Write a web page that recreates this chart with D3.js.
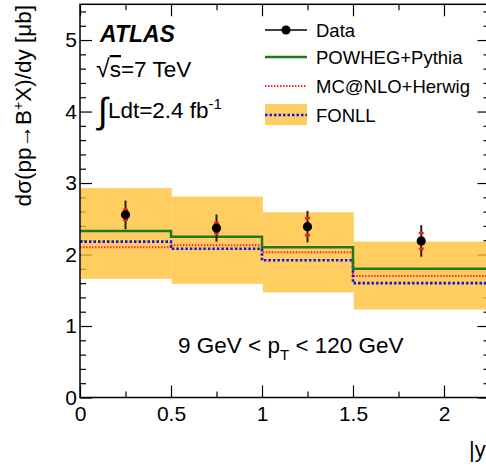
<!DOCTYPE html>
<html>
<head>
	<meta charset="utf-8">
	<title>B+ cross section vs |y|</title>
	<script src="https://d3js.org/d3.v7.min.js"></script>
	<style>
		body { margin: 0; background: #fff; }
		svg { font-family: "Liberation Sans", Arial, sans-serif; }
		.axis path { display: none; }
		.axis line { stroke: #000; stroke-width: 1.2px; }
		.axis text { font-size: 21px; fill: #000; }
	</style>
</head>
<body>
<svg id="chart"></svg>
<script>
// bin edges in |y| and bin centres for the data points
var binEdges = [0, 0.5, 1, 1.5, 2.25];
var dataX = [0.25, 0.75, 1.25, 1.875];
var dataY = [2.555, 2.37, 2.39, 2.19];
var dataErrTot = [0.20, 0.19, 0.22, 0.22];
var dataErrStat = [0.07, 0.07, 0.12, 0.11];
var powheg = [2.33, 2.25, 2.10, 1.80];
var mcnlo = [2.10, 2.13, 2.03, 1.70];
var fonll = [2.18, 2.08, 1.92, 1.60];
var fonllHi = [2.93, 2.81, 2.59, 2.18];
var fonllLo = [1.66, 1.59, 1.47, 1.23];
var xTicks = [0, 0.5, 1, 1.5, 2];
var yTicks = [0, 1, 2, 3, 4, 5];

(function () {
	var W = 486, H = 468,
		mLeft = 80, mRight = 489.5, mTop = 4.3, mBottom = 397.5;

	var x = d3.scaleLinear().domain([0, 2.25]).range([mLeft, mRight]),
		y = d3.scaleLinear().domain([0, 5.5]).range([mBottom, mTop]);

	var svg = d3.select('#chart').attr('width', W).attr('height', H);

	var minorX = d3.range(0, 2.26, 0.25).filter(function(v){ return Math.abs(v*2 - Math.round(v*2)) > 0.01; }),
		minorY = d3.range(0, 5.51, 0.2).filter(function(v){ return Math.abs(v - Math.round(v)) > 0.01; });

	// ticks, pointing inwards like ROOT
	svg.append('g').attr('class', 'axis').attr('transform', 'translate(0,' + mBottom + ')')
		.call(d3.axisBottom(x).tickValues(xTicks).tickSize(-12).tickFormat(d3.format('')))
		.selectAll('text').attr('dy', '0').attr('y', 23);
	svg.append('g').attr('class', 'axis').attr('transform', 'translate(0,' + mBottom + ')')
		.call(d3.axisBottom(x).tickValues(minorX).tickSize(-6).tickFormat(''));
	svg.append('g').attr('class', 'axis').attr('transform', 'translate(0,' + mTop + ')')
		.call(d3.axisTop(x).tickValues(xTicks).tickSize(-12).tickFormat(''));
	svg.append('g').attr('class', 'axis').attr('transform', 'translate(0,' + mTop + ')')
		.call(d3.axisTop(x).tickValues(minorX).tickSize(-6).tickFormat(''));
	svg.append('g').attr('class', 'axis').attr('transform', 'translate(' + mLeft + ',0)')
		.call(d3.axisLeft(y).tickValues(yTicks).tickSize(-12).tickFormat(d3.format('d')))
		.selectAll('text').attr('x', -3);
	svg.append('g').attr('class', 'axis').attr('transform', 'translate(' + mLeft + ',0)')
		.call(d3.axisLeft(y).tickValues(minorY).tickSize(-6).tickFormat(''));
	svg.append('g').attr('class', 'axis').attr('transform', 'translate(' + mRight + ',0)')
		.call(d3.axisRight(y).tickValues(yTicks).tickSize(-12).tickFormat(''));
	svg.append('g').attr('class', 'axis').attr('transform', 'translate(' + mRight + ',0)')
		.call(d3.axisRight(y).tickValues(minorY).tickSize(-6).tickFormat(''));

	// FONLL uncertainty band
	svg.append('g').selectAll('rect')
		.data(fonllHi)
		.enter().append('rect')
			.attr('x', function(d, i){ return x(binEdges[i]) + 0.8; })
			.attr('width', function(d, i){ return x(binEdges[i+1]) - x(binEdges[i]); })
			.attr('y', function(d){ return y(d); })
			.attr('height', function(d, i){ return y(fonllLo[i]) - y(d); })
			.attr('fill', '#ffbf33')
			.attr('fill-opacity', 0.78);

	// step histograms
	function steps(vals) {
		var p = vals.map(function(v, i){ return [binEdges[i], v]; });
		p.push([binEdges[binEdges.length-1], vals[vals.length-1]]);
		return d3.line().x(function(d){ return x(d[0]); }).y(function(d){ return y(d[1]); })
			.curve(d3.curveStepAfter)(p);
	}
	svg.append('path').attr('d', steps(mcnlo)).attr('fill', 'none')
		.attr('stroke', '#ff2a2a').attr('stroke-width', 2).attr('stroke-dasharray', '1.5,1.5');
	svg.append('path').attr('d', steps(fonll)).attr('fill', 'none')
		.attr('stroke', '#1414e6').attr('stroke-width', 2.6).attr('stroke-dasharray', '2.5,2');
	svg.append('path').attr('d', steps(powheg)).attr('fill', 'none')
		.attr('stroke', '#22771c').attr('stroke-width', 2.5);

	// data points
	var pts = svg.append('g').selectAll('g').data(dataY).enter().append('g');
	pts.append('line')
		.attr('x1', function(d, i){ return x(dataX[i]); })
		.attr('x2', function(d, i){ return x(dataX[i]); })
		.attr('y1', function(d, i){ return y(d + dataErrTot[i]); })
		.attr('y2', function(d, i){ return y(d - dataErrTot[i]); })
		.attr('stroke', '#222').attr('stroke-width', 2);
	[1, -1].forEach(function(s){
		pts.append('line')
			.attr('x1', function(d, i){ return x(dataX[i]) - 2.5; })
			.attr('x2', function(d, i){ return x(dataX[i]) + 2.5; })
			.attr('y1', function(d, i){ return y(d + s*dataErrStat[i]); })
			.attr('y2', function(d, i){ return y(d + s*dataErrStat[i]); })
			.attr('stroke', '#ff2020').attr('stroke-width', 2.5);
	});
	pts.append('circle')
		.attr('cx', function(d, i){ return x(dataX[i]); })
		.attr('cy', function(d){ return y(d); })
		.attr('r', 4.6).attr('fill', '#000');

	// frame
	svg.append('rect').attr('x', mLeft).attr('y', mTop).attr('width', mRight-mLeft).attr('height', mBottom-mTop)
		.attr('fill', 'none').attr('stroke', '#000').attr('stroke-width', 1.5);

	// axis titles
	svg.append('text')
		.attr('transform', 'translate(31,5) rotate(-90)')
		.attr('text-anchor', 'end')
		.style('font-size', '22.5px')
		.html('dσ(pp→B<tspan dy="-8" font-size="14">+</tspan><tspan dy="8">X)/dy [μb]</tspan>');
	svg.append('text')
		.attr('x', 469).attr('y', 457)
		.style('font-size', '22px')
		.text('|y|');

	// labels
	svg.append('text').attr('x', 100).attr('y', 42)
		.style('font-size', '23px').style('font-weight', 'bold').style('font-style', 'italic')
		.text('ATLAS');
	svg.append('text').attr('x', 96).attr('y', 77).style('font-size', '22.5px')
		.html('<tspan font-size="25">√</tspan><tspan text-decoration="overline">s</tspan>=7 TeV');
	svg.append('text').attr('x', 98).attr('y', 118).style('font-size', '22.5px')
		.html('<tspan font-size="36" dy="5">∫</tspan><tspan dy="-5">Ldt=2.4 fb</tspan><tspan dy="-9" font-size="15">-1</tspan>');
	svg.append('text').attr('x', 178).attr('y', 353).style('font-size', '22.5px')
		.html('9 GeV &lt; p<tspan dy="7" font-size="15">T</tspan><tspan dy="-7"> &lt; 120 GeV</tspan>');

	// legend
	var legNames = ['Data', 'POWHEG+Pythia', 'MC@NLO+Herwig', 'FONLL'],
		legY = [30, 57, 86, 115];
	var lg = svg.append('g');
	lg.append('rect').attr('x', 265).attr('y', legY[3] - 11).attr('width', 42).attr('height', 21)
		.attr('fill', '#ffbf33').attr('fill-opacity', 0.78);
	lg.append('line').attr('x1', 265).attr('x2', 307).attr('y1', legY[0]).attr('y2', legY[0])
		.attr('stroke', '#000').attr('stroke-width', 1.5);
	lg.append('circle').attr('cx', 286).attr('cy', legY[0]).attr('r', 4.6).attr('fill', '#000');
	lg.append('line').attr('x1', 265).attr('x2', 307).attr('y1', legY[1]).attr('y2', legY[1])
		.attr('stroke', '#22771c').attr('stroke-width', 2.5);
	lg.append('line').attr('x1', 265).attr('x2', 307).attr('y1', legY[2]).attr('y2', legY[2])
		.attr('stroke', '#ff2a2a').attr('stroke-width', 2).attr('stroke-dasharray', '1.5,1.5');
	lg.append('line').attr('x1', 265).attr('x2', 307).attr('y1', legY[3]).attr('y2', legY[3])
		.attr('stroke', '#1414e6').attr('stroke-width', 2.6).attr('stroke-dasharray', '2.5,2');
	lg.selectAll('text.leg').data(legNames).enter().append('text')
		.attr('class', 'leg')
		.attr('x', 316).attr('y', function(d, i){ return legY[i] + 6.5; })
		.style('font-size', '18.5px')
		.text(function(d){ return d; });
}());
</script>
</body>
</html>
